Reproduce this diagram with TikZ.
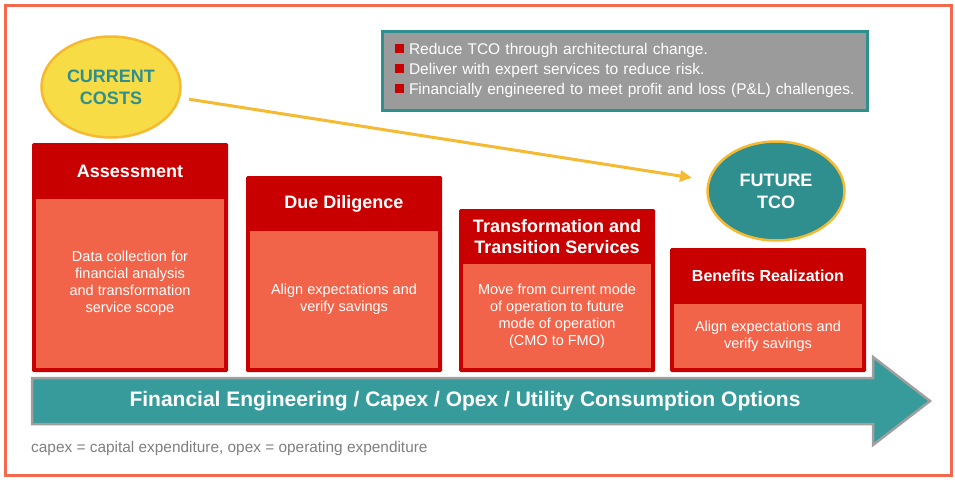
\documentclass[tikz,border=0pt]{standalone}
\usepackage{fontspec}
\setmainfont{Liberation Sans}
\usepackage{xcolor}
\usetikzlibrary{arrows.meta,shapes.geometric}

\definecolor{framered}{HTML}{F4694E}
\definecolor{headred}{HTML}{C80000}
\definecolor{bodysalmon}{HTML}{F2644A}
\definecolor{tealgreen}{HTML}{2E8F8E}
\definecolor{arrowteal}{HTML}{379B9B}
\definecolor{sunyellow}{HTML}{F7DC45}
\definecolor{amber}{HTML}{F6B932}
\definecolor{boxgray}{HTML}{9B9B9B}
\definecolor{notegray}{HTML}{7F7F7F}

\tikzset{
  stagebox/.style={rectangle, fill=headred, rounded corners=1.5pt, minimum width=196pt, inner sep=0pt},
  stagetitle/.style={text=white, font=\fontsize{18}{21}\selectfont\bfseries, align=center, inner sep=0pt},
  stagebody/.style={rectangle, fill=bodysalmon, minimum width=188pt, text=white, font=\fontsize{14.5}{17}\selectfont, align=center, inner sep=0pt, anchor=north},
  costoval/.style={ellipse, line width=2.5pt, font=\fontsize{18}{22}\selectfont\bfseries, align=center, inner sep=0pt}
}
\newcommand{\sqbullet}{\textcolor{headred}{\raisebox{2pt}{\rule{9pt}{9pt}}}\hspace{5pt}}

\begin{document}
\begin{tikzpicture}[x=1pt,y=-1pt]
\useasboundingbox (0,0) rectangle (955,479);
% Frame
\draw[framered, line width=3pt] (5,5) rectangle (951,475);

% Key points box
\node[draw=tealgreen, line width=3pt, fill=boxgray, minimum width=485pt, minimum height=79pt, text width=459pt, inner xsep=13pt, align=left, text=white, font=\fontsize{15.5}{20}\selectfont] (points) at (624.5,70.5) {
\mbox{\sqbullet Reduce TCO through architectural change.}\\
\mbox{\sqbullet Deliver with expert services to reduce risk.}\\
\mbox{\sqbullet Financially engineered to meet profit and loss (P\&L) challenges.}
};

% Cost ovals
\node[costoval, draw=amber, fill=sunyellow, text=tealgreen, minimum width=139pt, minimum height=101pt] (current) at (111,87) {CURRENT\\COSTS};
\node[costoval, draw=amber, fill=tealgreen, text=white, minimum width=137pt, minimum height=99pt] (future) at (776,191) {FUTURE\\TCO};

% Arrow
\draw[amber, line width=3pt, -{Triangle[length=12pt,width=11pt]}, shorten <=9pt, shorten >=16pt] (current) -- (future);

% Assessment
\node[stagebox, minimum height=229pt] (assess) at (130,257.5) {};
\node[stagetitle] (assesstitle) at (130,171) {Assessment};
\node[stagebody, minimum height=169pt] (assessbody) at (130,199) {Data collection for\\financial analysis\\and transformation\\service scope};

% Due Diligence
\node[stagebox, minimum height=196pt] (duedil) at (344,274) {};
\node[stagetitle] (dueliltitle) at (344,204) {Due Diligence};
\node[stagebody, minimum height=137pt] (duedilbody) at (344,231) {Align expectations and\\verify savings};

% Transformation
\node[stagebox, minimum height=163pt] (transf) at (557,290.5) {};
\node[stagetitle] (transftitle) at (557,236.5) {Transformation and\\Transition Services};
\node[stagebody, minimum height=104pt] (transfbody) at (557,264) {Move from current mode\\of operation to future\\mode of operation\\(CMO to FMO)};

% Benefits
\node[stagebox, minimum height=124pt] (benefit) at (768,310) {};
\node[stagetitle, font=\fontsize{16}{19}\selectfont\bfseries] (benefittitle) at (768,276) {Benefits Realization};
\node[stagebody, minimum height=64pt] (benefitbody) at (768,304) {Align expectations and\\verify savings};

% Big arrow
\draw[gray!75, line width=2.5pt, fill=arrowteal] (32,378) -- (873,378) -- (873,357) -- (930,401) -- (873,445) -- (873,424) -- (32,424) -- cycle;
\node[text=white, font=\fontsize{21}{25}\selectfont\bfseries] (options) at (465,401) {Financial Engineering / Capex / Opex / Utility Consumption Options};

% Note
\node[anchor=west, text=notegray, font=\fontsize{15.4}{18}\selectfont, inner sep=0pt] (note) at (31,449) {capex = capital expenditure, opex = operating expenditure};
\end{tikzpicture}
\end{document}
